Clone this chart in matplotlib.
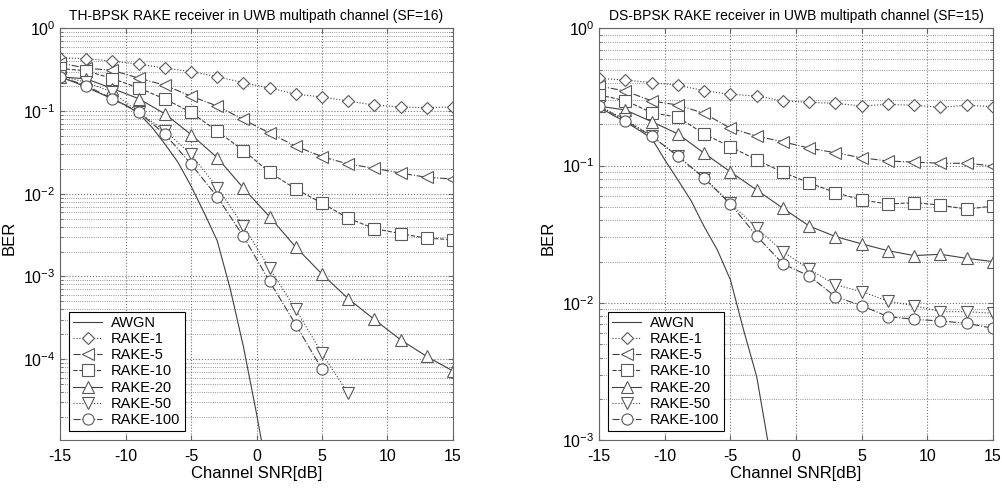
import numpy as np
import matplotlib
matplotlib.use('Agg')
import matplotlib.pyplot as plt
from matplotlib.ticker import LogLocator, NullFormatter, MultipleLocator

plt.rcParams['font.family'] = ['Liberation Sans', 'DejaVu Sans']
plt.rcParams['mathtext.fontset'] = 'custom'
plt.rcParams['mathtext.rm'] = 'Liberation Sans'
plt.rcParams['axes.unicode_minus'] = False

# SNR points (dB) for the RAKE curves
snr = np.arange(-15, 16, 2)

# TH-BPSK (SF=16)
th_awgn_snr = np.arange(-15, 2, 1)
th_awgn = [0.257, 0.226, 0.194, 0.165, 0.14, 0.118, 0.094, 0.064, 0.040, 0.024,
           0.0124, 0.0059, 0.0027, 7e-4, 1.42e-4, 2.2e-5, 3e-6]
th_rake1 = [0.44, 0.43, 0.40, 0.37, 0.33, 0.30, 0.26, 0.22, 0.19, 0.16, 0.148,
            0.132, 0.118, 0.112, 0.11, 0.112]
th_rake5 = [0.38, 0.33, 0.31, 0.25, 0.205, 0.151, 0.115, 0.079, 0.054, 0.0376,
            0.0281, 0.0229, 0.0203, 0.0178, 0.0158, 0.0151]
th_rake10 = [0.327, 0.306, 0.247, 0.190, 0.140, 0.0964, 0.0571, 0.0333, 0.0182,
             0.0114, 0.0077, 0.00506, 0.00379, 0.0033, 0.0029, 0.00279]
th_rake20 = [0.259, 0.245, 0.187, 0.141, 0.0925, 0.052, 0.0273, 0.0117, 0.00527,
             0.00226, 0.00107, 0.00054, 0.000302, 0.000172, 0.000108, 7.2e-5]
th_rake50 = [0.264, 0.223, 0.169, 0.0966, 0.0578, 0.0300, 0.0119, 0.00407,
             0.00125, 0.0004, 0.000118, 3.85e-5]
th_rake100 = [0.259, 0.203, 0.14, 0.0966, 0.0527, 0.0228, 0.0092, 0.00305,
              0.00087, 0.000262, 7.55e-5]

# DS-BPSK (SF=15)
ds_awgn_snr = np.arange(-15, 0, 1)
ds_awgn = [0.268, 0.234, 0.209, 0.182, 0.158, 0.11, 0.0785, 0.0555, 0.0359,
           0.0243, 0.0147, 0.00635, 0.0029, 8.1e-4, 1e-4]
ds_rake1 = [0.432, 0.42, 0.402, 0.385, 0.351, 0.331, 0.321, 0.296, 0.289, 0.284,
            0.272, 0.279, 0.275, 0.266, 0.275, 0.269]
ds_rake5 = [0.38, 0.349, 0.296, 0.276, 0.24, 0.187, 0.164, 0.149, 0.134, 0.124,
            0.114, 0.108, 0.106, 0.104, 0.104, 0.0995]
ds_rake10 = [0.327, 0.297, 0.243, 0.225, 0.170, 0.137, 0.11, 0.0894, 0.075,
             0.0635, 0.0562, 0.0525, 0.0537, 0.0516, 0.0481, 0.0508]
ds_rake20 = [0.271, 0.254, 0.209, 0.170, 0.123, 0.090, 0.0664, 0.0489, 0.0363,
             0.0304, 0.0269, 0.024, 0.0221, 0.0226, 0.0211, 0.0200]
ds_rake50 = [0.271, 0.217, 0.164, 0.117, 0.0816, 0.0531, 0.0353, 0.0236, 0.0176,
             0.0135, 0.0121, 0.0103, 0.00955, 0.00863, 0.00863, 0.0084]
ds_rake100 = [0.271, 0.212, 0.164, 0.117, 0.0808, 0.0525, 0.0307, 0.0192, 0.0157,
              0.0111, 0.00955, 0.00794, 0.00759, 0.00738, 0.0071, 0.00653]

labels = ['AWGN', 'RAKE-1', 'RAKE-5', 'RAKE-10', 'RAKE-20', 'RAKE-50', 'RAKE-100']
styles = [('D', ':'), ('<', '-.'), ('s', '--'), ('^', '-'), ('v', ':'), ('o', '-.')]

lc = '0.25'


def draw(ax, awgn_x, awgn, rakes, title, ylo):
    ax.semilogy(awgn_x, awgn, '-', color=lc, lw=0.8, label=labels[0])
    for (m, ls), y, lab in zip(styles, rakes, labels[1:]):
        ax.semilogy(snr[:len(y)], y, ls=ls, marker=m, color=lc, lw=0.8,
                    mfc='white', mec='0.35', ms=8 if m != 'D' else 6.5,
                    mew=0.8, label=lab)
    ax.set_xlim(-15, 15)
    ax.set_ylim(ylo, 1)
    ax.xaxis.set_major_locator(MultipleLocator(5))
    ax.yaxis.set_major_locator(LogLocator(base=10, numticks=10))
    ax.yaxis.set_minor_locator(LogLocator(base=10, subs=np.arange(2, 10), numticks=10))
    ax.yaxis.set_minor_formatter(NullFormatter())
    ax.grid(True, which='major', ls=':', color='0.45', lw=0.8)
    ax.grid(True, which='minor', ls=':', color='0.45', lw=0.6)
    ax.tick_params(which='both', direction='in', top=True, right=True,
                   labelsize=11.5, color='0.4')
    ax.tick_params(axis='x', pad=6)
    ax.tick_params(which='minor', length=2.5)
    for s in ax.spines.values():
        s.set_color('0.4')
    ax.set_title(title, fontsize=10, pad=6)
    ax.set_xlabel('Channel SNR[dB]', fontsize=12, labelpad=2)
    ax.set_ylabel('BER', fontsize=12)
    ax.yaxis.set_label_coords(-0.11, 0.49)
    leg = ax.legend(loc='lower left', fontsize=10.5, fancybox=False,
                    edgecolor='black', framealpha=1, handlelength=2.0,
                    labelspacing=0.15, borderaxespad=0.6, borderpad=0.3,
                    handletextpad=0.6)
    leg.get_frame().set_linewidth(0.8)


fig = plt.figure(figsize=(10.02, 4.88), dpi=100)
ax1 = fig.add_axes([0.060, 0.098, 0.392, 0.844])
ax2 = fig.add_axes([0.598, 0.098, 0.393, 0.844])

draw(ax1, th_awgn_snr, th_awgn,
     [th_rake1, th_rake5, th_rake10, th_rake20, th_rake50, th_rake100],
     'TH-BPSK RAKE receiver in UWB multipath channel (SF=16)', 1.05e-5)
draw(ax2, ds_awgn_snr, ds_awgn,
     [ds_rake1, ds_rake5, ds_rake10, ds_rake20, ds_rake50, ds_rake100],
     'DS-BPSK RAKE receiver in UWB multipath channel (SF=15)', 1e-3)

fig.savefig('out.png', dpi=100)
